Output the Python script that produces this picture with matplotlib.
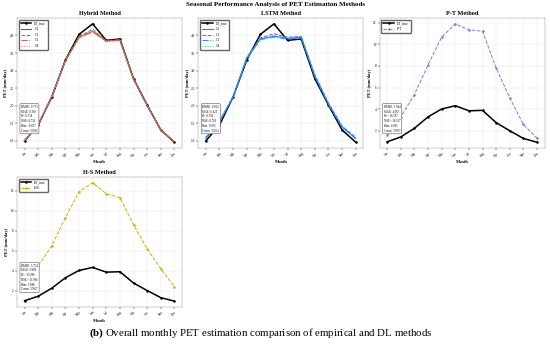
import numpy as np
import matplotlib
matplotlib.use("Agg")
import matplotlib.pyplot as plt

plt.rcParams['font.family'] = ['Liberation Serif', 'DejaVu Serif']
plt.rcParams['mathtext.fontset'] = 'custom'
plt.rcParams['mathtext.rm'] = 'Liberation Serif'
plt.rcParams['mathtext.bf'] = 'Liberation Serif:bold'

months = ["Jan", "Feb", "Mar", "Apr", "May", "Jun", "Jul", "Aug", "Sep", "Oct", "Nov", "Dec"]

et_true = [1.0, 1.45, 2.25, 3.3, 4.03, 4.33, 3.86, 3.9, 2.77, 2.02, 1.31, 0.96]

hybrid_c1 = [1.0, 1.46, 2.26, 3.28, 3.95, 4.12, 3.84, 3.87, 2.76, 2.01, 1.31, 0.97]
hybrid_c2 = [1.01, 1.47, 2.25, 3.3, 3.97, 4.18, 3.85, 3.88, 2.77, 2.02, 1.32, 0.98]
hybrid_c3 = [1.0, 1.45, 2.24, 3.27, 3.93, 4.1, 3.83, 3.86, 2.75, 2.0, 1.3, 0.97]
hybrid_c4 = [1.01, 1.46, 2.25, 3.29, 3.96, 4.14, 3.85, 3.87, 2.76, 2.01, 1.31, 0.98]

lstm_c1 = [1.08, 1.55, 2.25, 3.35, 3.9, 3.98, 3.92, 3.95, 2.85, 2.05, 1.4, 1.07]
lstm_c2 = [1.1, 1.56, 2.26, 3.37, 3.93, 4.05, 3.95, 3.97, 2.88, 2.08, 1.42, 1.1]
lstm_c3 = [1.06, 1.53, 2.24, 3.33, 3.88, 3.95, 3.9, 3.93, 2.83, 2.04, 1.38, 1.05]
lstm_c4 = [1.09, 1.54, 2.25, 3.36, 3.91, 4.0, 3.93, 3.96, 2.86, 2.06, 1.41, 1.08]

pt_vals = [1.6, 3.3, 5.36, 8.1, 10.65, 11.88, 11.33, 11.2, 7.8, 5.05, 2.6, 1.33]
hs_vals = [3.0, 4.5, 6.5, 9.3, 11.9, 12.8, 11.7, 11.3, 8.6, 6.2, 4.2, 2.4]

hybrid_stats = ["RMSE: 0.773", "MAE: 0.383", "R²: 0.734", "NSE: 0.734", "Bias: -0.017", "Count: 35682"]
lstm_stats = ["RMSE: 0.822", "MAE: 0.425", "R²: 0.702", "NSE: 0.702", "Bias: 0.033", "Count: 35654"]
pt_stats = ["RMSE: 3.944", "MAE: 4.067", "R²: -16.567", "NSE: -16.567", "Bias: 4.001", "Count: 37667"]
hs_stats = ["RMSE: 5.754", "MAE: 5.088", "R²: -13.986", "NSE: -13.986", "Bias: 5.088", "Count: 37667"]

x = np.arange(len(months))


def style_axis(ax, title, stats):
    ax.set_title(title, fontsize=4.5, fontweight='bold', pad=2)
    ax.set_xticks(x)
    ax.set_xticklabels(months, rotation=45, fontsize=2.4)
    ax.tick_params(axis='both', labelsize=2.4, length=1.2, width=0.3, pad=1)
    ax.set_xlabel("Month", fontsize=3.2, fontweight='bold', labelpad=1)
    ax.set_ylabel("PET (mm/day)", fontsize=3.2, fontweight='bold', labelpad=1)
    ax.grid(True, color='#e6e6e6', linewidth=0.3)
    for s in ax.spines.values():
        s.set_linewidth(0.3)
        s.set_color('#888888')
    ax.legend(loc='upper left', fontsize=2.6, frameon=True, edgecolor='#666666',
              framealpha=1, borderpad=0.5, handlelength=3, labelspacing=0.45)
    ax.text(0.025, 0.12, "\n".join(stats), transform=ax.transAxes, fontsize=2.2,
            va='bottom', ha='left', linespacing=1.25,
            bbox=dict(boxstyle='round,pad=0.4', facecolor='white', edgecolor='#555555', linewidth=0.4))


fig, axes = plt.subplots(2, 3, figsize=(5.5, 3.45), dpi=100)
plt.subplots_adjust(left=0.031, right=0.99, top=0.948, bottom=0.11, wspace=0.1, hspace=0.22)

lw_true = 1.1
ms = 0.8

# Hybrid
ax = axes[0, 0]
ax.plot(x, et_true, color='black', lw=lw_true, marker='o', ms=ms, label='ET_true')
ax.plot(x, hybrid_c1, color='#8B4513', lw=0.7, ls='-', label='C1')
ax.plot(x, hybrid_c2, color='#6B8E23', lw=0.7, ls='--', label='C2')
ax.plot(x, hybrid_c3, color='#CD5C5C', lw=0.7, ls='-.', label='C3')
ax.plot(x, hybrid_c4, color='#FF69B4', lw=0.7, ls=':', label='C4')
style_axis(ax, "Hybrid Method", hybrid_stats)

# LSTM
ax = axes[0, 1]
ax.plot(x, et_true, color='black', lw=lw_true, marker='o', ms=ms, label='ET_true')
ax.plot(x, lstm_c1, color='#4169E1', lw=0.7, ls='-', label='C1')
ax.plot(x, lstm_c2, color='#6A5ACD', lw=0.7, ls='--', label='C2')
ax.plot(x, lstm_c3, color='#1E90FF', lw=0.7, ls='-.', label='C3')
ax.plot(x, lstm_c4, color='#00BFFF', lw=0.7, ls=':', label='C4')
style_axis(ax, "LSTM Method", lstm_stats)

# P-T
ax = axes[0, 2]
ax.plot(x, et_true, color='black', lw=lw_true, marker='o', ms=ms, label='ET_true')
ax.plot(x, pt_vals, color='#9370DB', lw=0.7, ls='--', marker='o', ms=ms, label='P-T')
ax.set_yticks([2, 4, 6, 8, 10, 12])
style_axis(ax, "P-T Method", pt_stats)

# H-S
ax = axes[1, 0]
ax.plot(x, et_true, color='black', lw=lw_true, marker='o', ms=ms, label='ET_true')
ax.plot(x, hs_vals, color='#C8B400', lw=0.7, ls='--', marker='o', ms=ms, label='H-S')
ax.set_yticks([2, 4, 6, 8, 10, 12])
style_axis(ax, "H-S Method", hs_stats)

axes[1, 1].remove()
axes[1, 2].remove()

fig.suptitle("Seasonal Performance Analysis of PET Estimation Methods",
             fontsize=5, fontweight='bold', y=0.993)

fig.text(0.162, 0.035, r"$\mathbf{(b)}$ Overall monthly PET estimation comparison of empirical and DL methods",
         fontsize=7.8, ha='left', va='center')

plt.savefig("out.png", dpi=100)
